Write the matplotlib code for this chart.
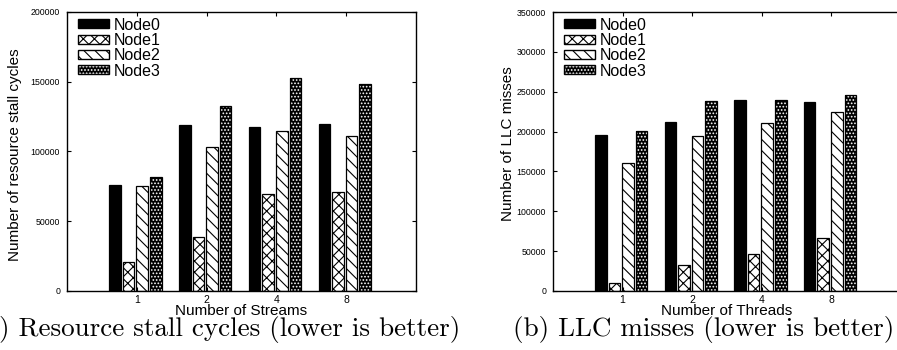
import numpy as np
import matplotlib
matplotlib.use("Agg")
import matplotlib.pyplot as plt
from matplotlib.patches import Patch
from matplotlib.legend_handler import HandlerTuple

plt.rcParams['font.family'] = ['Liberation Sans', 'DejaVu Sans']
plt.rcParams['hatch.linewidth'] = 0.8

groups = ["1", "2", "4", "8"]
nodes = ["Node0", "Node1", "Node2", "Node3"]

# (a) resource stall cycles, per node, per stream count
stall_node0 = [76000, 119000, 117500, 119500]
stall_node1 = [20500, 38500, 69500, 71000]
stall_node2 = [75500, 103500, 115000, 111000]
stall_node3 = [82000, 132500, 152500, 148500]

# (b) LLC misses, per node, per thread count
llc_node0 = [195500, 212000, 239000, 237500]
llc_node1 = [10500, 32500, 46000, 66500]
llc_node2 = [161000, 194000, 211000, 225000]
llc_node3 = [200500, 238000, 239000, 245500]

fig = plt.figure(figsize=(8.97, 3.5), dpi=100)
ax1 = fig.add_axes([67/897, 59/350, 349/897, 279/350])
ax2 = fig.add_axes([553/897, 59/350, 348/897, 279/350])

width = 0.165
step = 0.195


def draw(ax, series, ymax, yticks, xlabel, ylabel, ylab_x, ylab_y):
    x = np.arange(1, len(groups) + 1) - 0.02
    handles = []
    for i, vals in enumerate(series):
        pos = x + (i - 1.5) * step
        if i == 0:
            ax.bar(pos, vals, width, color='black', edgecolor='black', lw=0.9)
            handles.append(Patch(facecolor='black', edgecolor='black'))
        elif i == 1:
            ax.bar(pos, vals, width, color='white', edgecolor='black', lw=0.9, hatch='xxx')
            handles.append(Patch(facecolor='white', edgecolor='black', hatch='xxx'))
        elif i == 2:
            ax.bar(pos, vals, width, color='white', edgecolor='black', lw=0.9, hatch='\\\\\\')
            handles.append(Patch(facecolor='white', edgecolor='black', hatch='\\\\\\'))
        else:
            ax.bar(pos, vals, width, color='black', edgecolor='white', lw=0, hatch='.....')
            ax.bar(pos, vals, width, fill=False, edgecolor='black', lw=0.9)
            handles.append((Patch(facecolor='black', edgecolor='white', hatch='.....'),
                            Patch(fill=False, edgecolor='black')))
    ax.set_xlim(0, 5)
    ax.set_ylim(0, ymax)
    ax.set_xticks(np.arange(1, len(groups) + 1))
    ax.set_xticklabels(groups, fontsize=7.5)
    ax.set_yticks(yticks)
    ax.set_yticklabels([str(v) for v in yticks], fontsize=6.3)
    ax.tick_params(direction='in', top=True, right=True, length=3, width=0.8)
    ax.tick_params(axis='x', pad=3)
    ax.tick_params(axis='y', pad=5)
    for s in ax.spines.values():
        s.set_linewidth(1.0)
    ax.set_xlabel(xlabel, fontsize=11)
    ax.xaxis.set_label_coords(0.5, -0.046)
    ax.set_ylabel(ylabel, fontsize=11)
    ax.yaxis.set_label_coords(ylab_x, ylab_y)
    ax.legend(handles, nodes, loc='upper left', bbox_to_anchor=(0.0, 1.02),
              frameon=False, fontsize=11.5, handlelength=1.9, handleheight=0.5,
              labelspacing=0.02, handletextpad=0.3, borderaxespad=0.3,
              handler_map={tuple: HandlerTuple(ndivide=1)})


draw(ax1, [stall_node0, stall_node1, stall_node2, stall_node3], 200000,
     [0, 50000, 100000, 150000, 200000], "Number of Streams",
     "Number of resource stall cycles", -0.13, 0.49)
draw(ax2, [llc_node0, llc_node1, llc_node2, llc_node3], 350000,
     [0, 50000, 100000, 150000, 200000, 250000, 300000, 350000], "Number of Threads",
     "Number of LLC misses", -0.11, 0.53)

fig.text(460/897, 1 - 336/350, "(a) Resource stall cycles (lower is better)",
         ha='right', va='baseline', fontsize=19.5, family='cmr10')
fig.text(513/897, 1 - 336/350, "(b) LLC misses (lower is better)",
         ha='left', va='baseline', fontsize=19.5, family='cmr10')

fig.savefig("out.png", dpi=100)
